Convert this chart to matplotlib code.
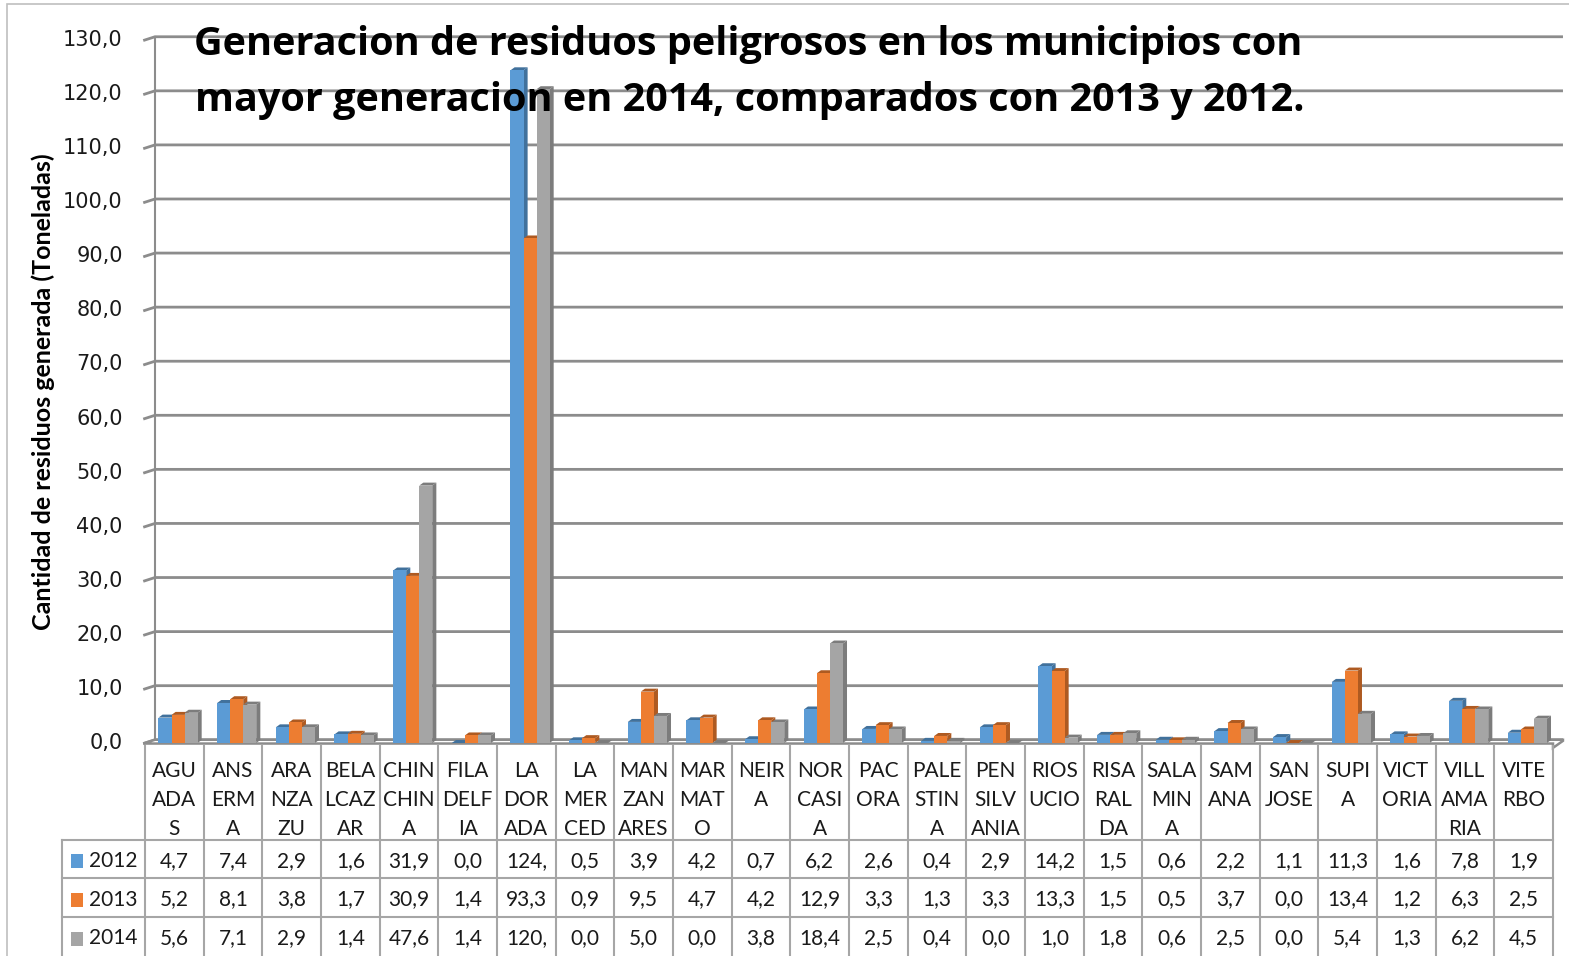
import matplotlib
matplotlib.use("Agg")
import matplotlib.pyplot as plt
from matplotlib.patches import Polygon, Rectangle
from matplotlib.lines import Line2D

W, H = 1569, 956

labels = ["AGU\nADA\nS", "ANS\nERM\nA", "ARA\nNZA\nZU", "BELA\nLCAZ\nAR",
          "CHIN\nCHIN\nA", "FILA\nDELF\nIA", "LA\nDOR\nADA", "LA\nMER\nCED",
          "MAN\nZAN\nARES", "MAR\nMAT\nO", "NEIR\nA", "NOR\nCASI\nA",
          "PAC\nORA", "PALE\nSTIN\nA", "PEN\nSILV\nANIA", "RIOS\nUCIO",
          "RISA\nRAL\nDA", "SALA\nMIN\nA", "SAM\nANA", "SAN\nJOSE",
          "SUPI\nA", "VICT\nORIA", "VILL\nAMA\nRIA", "VITE\nRBO"]
years = ["2012", "2013", "2014"]
v2012 = [4.7, 7.4, 2.9, 1.6, 31.9, 0.0, 124.4, 0.5, 3.9, 4.2, 0.7, 6.2,
         2.6, 0.4, 2.9, 14.2, 1.5, 0.6, 2.2, 1.1, 11.3, 1.6, 7.8, 1.9]
v2013 = [5.2, 8.1, 3.8, 1.7, 30.9, 1.4, 93.3, 0.9, 9.5, 4.7, 4.2, 12.9,
         3.3, 1.3, 3.3, 13.3, 1.5, 0.5, 3.7, 0.0, 13.4, 1.2, 6.3, 2.5]
v2014 = [5.6, 7.1, 2.9, 1.4, 47.6, 1.4, 120.9, 0.0, 5.0, 0.0, 3.8, 18.4,
         2.5, 0.4, 0.0, 1.0, 1.8, 0.6, 2.5, 0.0, 5.4, 1.3, 6.2, 4.5]
yticks = list(range(0, 131, 10))

series = [v2012, v2013, v2014]
face = ["#5B9BD5", "#ED7D31", "#A5A5A5"]
side = ["#41719C", "#AE5A21", "#7C7C7C"]
grid_c = "#8C8C8C"
table_c = "#A6A6A6"


def fx(x):
    return x / W


def fy(y):
    return 1 - y / H


def fmt(v):
    # excel cell is narrow, so long numbers get cut after 4 characters
    s = f"{v:.1f}".replace(".", ",")
    return s[:4]


fig = plt.figure(figsize=(W / 100, H / 100), dpi=100)
# chart area border
fig.add_artist(Rectangle((fx(7), fy(1000)), 2, fy(4) - fy(1000), transform=fig.transFigure,
                         fill=False, edgecolor="#BFBFBF", lw=1.2))

x0, x1, ytop, ybot = 145, 1553, 40, 743
ax = fig.add_axes([fx(x0), fy(ybot), fx(x1) - fx(x0), fy(ytop) - fy(ybot)])
n = len(labels)
ax.set_xlim(0, n)
ax.set_ylim(0, 130)
ax.axis("off")

dx, dy = 0.17, 0.6      # depth of the back wall
bdx, bdy = 0.07, 0.55   # depth of each column

# back wall gridlines with their slanted lead-in
for v in yticks:
    ax.plot([-0.03, dx, n + dx], [v - 0.1, v + dy, v + dy], color=grid_c, lw=2,
            clip_on=False, zorder=1, solid_capstyle="butt")
    ax.text(-0.38, v, f"{v:.1f}".replace(".", ","), ha="right", va="center",
            fontsize=15, family="DejaVu Sans", color="#1a1a1a")
ax.plot([dx, dx], [dy, 130 + dy], color=grid_c, lw=1.5, clip_on=False, zorder=1)

# floor slab
floor = Polygon([(-0.03, -0.1), (n, -0.1), (n, -0.9), (n + dx, dy - 0.2), (n + dx, dy), (dx, dy)],
                closed=True, facecolor="white", edgecolor=grid_c, lw=1.8, clip_on=False, zorder=2)
ax.add_patch(floor)

bw = 0.222
for i in range(n):
    for j, vals in enumerate(series):
        v = vals[i]
        left = i + 0.23 + j * bw
        sp = Polygon([(left + bw, 0), (left + bw + bdx, bdy), (left + bw + bdx, v + bdy), (left + bw, v)],
                     closed=True, facecolor=side[j], edgecolor="none", zorder=3 + j)
        tp = Polygon([(left, v), (left + bw, v), (left + bw + bdx, v + bdy), (left + bdx, v + bdy)],
                     closed=True, facecolor=side[j], edgecolor="none", zorder=3 + j)
        ax.add_patch(sp)
        ax.add_patch(tp)
        ax.bar(left, v, width=bw, align="edge", color=face[j], zorder=3 + j, clip_on=False)

# data table under the plot
cw = (x1 - x0) / n
ty_head, ty_rows = ybot, [840, 878, 917, 956]
for k in range(n + 1):
    xx = x0 + k * cw
    fig.add_artist(Line2D([fx(xx), fx(xx)], [fy(ty_head + 3), fy(H)], color=table_c, lw=1.5))
fig.add_artist(Line2D([fx(62), fx(62)], [fy(840), fy(H)], color=table_c, lw=1.5))
for yy in ty_rows[:3]:
    fig.add_artist(Line2D([fx(62), fx(x1)], [fy(yy), fy(yy)], color=table_c, lw=1.5))

tfont = dict(fontsize=15, family="Lato", color="#1a1a1a")
for i, lab in enumerate(labels):
    cx = x0 + (i + 0.5) * cw
    for r, part in enumerate(lab.split("\n")):
        fig.text(fx(cx), fy(771 + r * 29), part, ha="center", va="center", **tfont)
    for r, vals in enumerate(series):
        cy = (ty_rows[r] + ty_rows[r + 1]) / 2 + 2
        fig.text(fx(cx), fy(cy), fmt(vals[i]), ha="center", va="center", **tfont)

for r, yr in enumerate(years):
    cy = (ty_rows[r] + ty_rows[r + 1]) / 2 + 2
    fig.add_artist(Rectangle((fx(71), fy(cy + 7)), fx(12), fy(0) - fy(14),
                             transform=fig.transFigure, facecolor=face[r], edgecolor="none"))
    fig.text(fx(89), fy(cy), yr, ha="left", va="center", **tfont)

fig.text(fx(43), fy(392), "Cantidad de residuos generada (Toneladas)", rotation=90,
         ha="center", va="center", fontsize=18, family="Lato", fontweight="bold")

tkw = dict(ha="center", va="center", fontsize=28.5, family="Open Sans", fontweight="bold", zorder=10)
fig.text(fx(748), fy(44), "Generacion de residuos peligrosos en los municipios con", **tkw)
fig.text(fx(750), fy(101), "mayor generacion en 2014, comparados con 2013 y 2012.", **tkw)

fig.savefig("out.png", dpi=100)
